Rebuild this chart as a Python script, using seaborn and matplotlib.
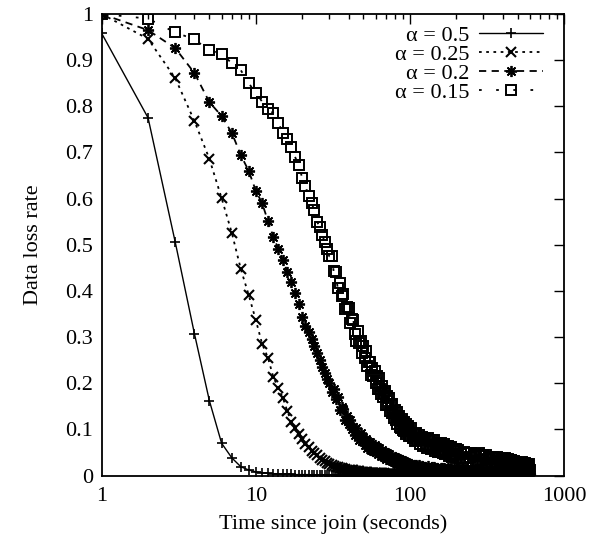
import matplotlib
matplotlib.use("Agg")
import matplotlib.pyplot as plt
import seaborn as sns
import pandas as pd
from matplotlib.ticker import FixedLocator, NullFormatter, FuncFormatter

# ---- data ----
time_s = [1, 2, 3, 4, 5, 6, 7, 8, 9, 10,
          11, 12, 13, 14, 15, 16, 17, 18, 19, 20,
          21, 22, 23, 24, 25, 26, 27, 28, 29, 30,
          31, 32, 33, 34, 35, 36, 37, 38, 39, 40,
          41, 42, 43, 44, 45, 46, 47, 48, 49, 50,
          51, 52, 53, 54, 55, 56, 57, 58, 59, 60,
          61, 62, 63, 64, 65, 66, 67, 68, 69, 70,
          71, 72, 73, 74, 75, 76, 77, 78, 79, 80,
          81, 82, 83, 84, 85, 86, 87, 88, 89, 90,
          91, 92, 93, 94, 95, 96, 97, 98, 99, 100,
          102, 104, 106, 108, 110, 112, 114, 116, 118, 120,
          122, 124, 126, 128, 130, 132, 134, 136, 138, 140,
          142, 144, 146, 148, 150, 152, 154, 156, 158, 160,
          162, 164, 166, 168, 170, 172, 174, 176, 178, 180,
          182, 184, 186, 188, 190, 192, 194, 196, 198, 200,
          205, 210, 215, 220, 225, 230, 235, 240, 245, 250,
          255, 260, 265, 270, 275, 280, 285, 290, 295, 300,
          305, 310, 315, 320, 325, 330, 335, 340, 345, 350,
          355, 360, 365, 370, 375, 380, 385, 390, 395, 400,
          405, 410, 415, 420, 425, 430, 435, 440, 445, 450,
          455, 460, 465, 470, 475, 480, 485, 490, 495, 500,
          505, 510, 515, 520, 525, 530, 535, 540, 545, 550,
          555, 560, 565, 570, 575, 580, 585, 590, 595, 600]

loss_a050 = [0.958, 0.775, 0.506, 0.307, 0.162, 0.070, 0.038, 0.019, 0.012, 0.008,
             0.006, 0.005, 0.004, 0.004, 0.003, 0.003, 0.003, 0.002, 0.002, 0.002,
             0.002, 0.002, 0.001, 0.001, 0.001, 0.001, 0.001, 0.001, 0.001, 0.001,
             0.001, 0.001, 0.001, 0.001, 0.000, 0.001, 0.001, 0.001, 0.000, 0.001,
             0.001, 0.000, 0.001, 0.000, 0.000, 0.001, 0.000, 0.000, 0.000, 0.000,
             0.000, 0.000, 0.000, 0.000, 0.000, 0.000, 0.000, 0.000, 0.000, 0.000,
             0.000, 0.000, 0.000, 0.000, 0.000, 0.000, 0.000, 0.000, 0.000, 0.000,
             0.000, 0.000, 0.000, 0.000, 0.000, 0.000, 0.000, 0.000, 0.000, 0.000,
             0.000, 0.000, 0.000, 0.000, 0.000, 0.000, 0.000, 0.000, 0.000, 0.000,
             0.000, 0.000, 0.000, 0.000, 0.000, 0.000, 0.000, 0.000, 0.000, 0.000,
             0.000, 0.000, 0.000, 0.000, 0.000, 0.000, 0.000, 0.000, 0.000, 0.000,
             0.000, 0.000, 0.000, 0.000, 0.000, 0.000, 0.000, 0.000, 0.000, 0.000,
             0.000, 0.000, 0.000, 0.000, 0.000, 0.000, 0.000, 0.000, 0.000, 0.000,
             0.000, 0.000, 0.000, 0.000, 0.000, 0.000, 0.000, 0.000, 0.000, 0.000,
             0.000, 0.000, 0.000, 0.000, 0.000, 0.000, 0.000, 0.000, 0.000, 0.000,
             0.000, 0.000, 0.000, 0.000, 0.000, 0.000, 0.000, 0.000, 0.000, 0.000,
             0.000, 0.000, 0.000, 0.000, 0.000, 0.000, 0.000, 0.000, 0.000, 0.000,
             0.000, 0.000, 0.000, 0.000, 0.000, 0.000, 0.000, 0.000, 0.000, 0.000,
             0.000, 0.000, 0.000, 0.000, 0.000, 0.000, 0.000, 0.000, 0.000, 0.000,
             0.000, 0.000, 0.000, 0.000, 0.000, 0.000, 0.000, 0.000, 0.000, 0.000,
             0.000, 0.000, 0.000, 0.000, 0.000, 0.000, 0.000, 0.000, 0.000, 0.000,
             0.000, 0.000, 0.000, 0.000, 0.000, 0.000, 0.000, 0.000, 0.000, 0.000,
             0.000, 0.000, 0.000, 0.000, 0.000, 0.000, 0.000, 0.000, 0.000, 0.000]

loss_a025 = [1.000, 0.946, 0.861, 0.768, 0.686, 0.601, 0.525, 0.447, 0.391, 0.337,
             0.285, 0.255, 0.213, 0.190, 0.168, 0.140, 0.117, 0.104, 0.090, 0.080,
             0.068, 0.062, 0.054, 0.049, 0.044, 0.039, 0.034, 0.031, 0.027, 0.024,
             0.022, 0.021, 0.019, 0.018, 0.017, 0.016, 0.015, 0.014, 0.013, 0.012,
             0.012, 0.011, 0.011, 0.010, 0.010, 0.009, 0.009, 0.008, 0.008, 0.008,
             0.007, 0.007, 0.007, 0.006, 0.006, 0.006, 0.006, 0.006, 0.006, 0.005,
             0.005, 0.005, 0.005, 0.005, 0.005, 0.005, 0.004, 0.005, 0.004, 0.004,
             0.004, 0.004, 0.004, 0.004, 0.004, 0.004, 0.003, 0.004, 0.003, 0.003,
             0.003, 0.003, 0.003, 0.003, 0.003, 0.003, 0.003, 0.003, 0.003, 0.003,
             0.003, 0.003, 0.003, 0.002, 0.003, 0.002, 0.003, 0.002, 0.002, 0.002,
             0.003, 0.002, 0.002, 0.003, 0.002, 0.002, 0.002, 0.001, 0.002, 0.002,
             0.002, 0.002, 0.001, 0.002, 0.002, 0.002, 0.001, 0.002, 0.002, 0.001,
             0.002, 0.001, 0.002, 0.002, 0.001, 0.002, 0.001, 0.001, 0.002, 0.001,
             0.001, 0.002, 0.001, 0.001, 0.002, 0.001, 0.001, 0.001, 0.002, 0.001,
             0.001, 0.001, 0.001, 0.002, 0.001, 0.001, 0.001, 0.001, 0.001, 0.001,
             0.001, 0.001, 0.001, 0.001, 0.002, 0.001, 0.001, 0.001, 0.001, 0.001,
             0.001, 0.001, 0.001, 0.001, 0.001, 0.001, 0.000, 0.001, 0.001, 0.001,
             0.001, 0.001, 0.000, 0.001, 0.001, 0.001, 0.001, 0.000, 0.001, 0.001,
             0.001, 0.000, 0.001, 0.001, 0.000, 0.001, 0.001, 0.001, 0.000, 0.001,
             0.001, 0.001, 0.000, 0.001, 0.000, 0.001, 0.001, 0.000, 0.001, 0.000,
             0.001, 0.000, 0.001, 0.000, 0.001, 0.000, 0.000, 0.001, 0.000, 0.000,
             0.000, 0.001, 0.000, 0.000, 0.001, 0.000, 0.000, 0.000, 0.001, 0.000,
             0.000, 0.000, 0.000, 0.001, 0.000, 0.000, 0.000, 0.000, 0.000, 0.000]

loss_a020 = [1.000, 0.965, 0.926, 0.872, 0.809, 0.779, 0.742, 0.694, 0.660, 0.617,
             0.590, 0.551, 0.517, 0.491, 0.467, 0.441, 0.419, 0.395, 0.372, 0.343,
             0.325, 0.311, 0.295, 0.280, 0.265, 0.250, 0.235, 0.222, 0.210, 0.200,
             0.181, 0.187, 0.165, 0.170, 0.143, 0.148, 0.145, 0.120, 0.130, 0.112,
             0.121, 0.100, 0.106, 0.088, 0.104, 0.087, 0.078, 0.092, 0.075, 0.084,
             0.067, 0.080, 0.060, 0.072, 0.072, 0.055, 0.064, 0.053, 0.067, 0.052,
             0.061, 0.046, 0.059, 0.048, 0.043, 0.055, 0.042, 0.049, 0.050, 0.036,
             0.048, 0.037, 0.047, 0.033, 0.040, 0.031, 0.043, 0.034, 0.029, 0.040,
             0.028, 0.039, 0.026, 0.034, 0.036, 0.024, 0.031, 0.025, 0.034, 0.023,
             0.032, 0.023, 0.030, 0.021, 0.030, 0.023, 0.028, 0.019, 0.025, 0.019,
             0.026, 0.018, 0.023, 0.016, 0.023, 0.017, 0.023, 0.015, 0.019, 0.021,
             0.013, 0.019, 0.019, 0.013, 0.012, 0.020, 0.014, 0.017, 0.012, 0.019,
             0.012, 0.018, 0.010, 0.015, 0.016, 0.009, 0.015, 0.011, 0.017, 0.010,
             0.016, 0.009, 0.016, 0.011, 0.009, 0.015, 0.010, 0.014, 0.016, 0.008,
             0.015, 0.010, 0.015, 0.007, 0.012, 0.008, 0.014, 0.010, 0.008, 0.014,
             0.014, 0.009, 0.011, 0.007, 0.012, 0.009, 0.013, 0.008, 0.010, 0.011,
             0.006, 0.011, 0.011, 0.007, 0.006, 0.012, 0.007, 0.010, 0.006, 0.011,
             0.006, 0.011, 0.005, 0.009, 0.010, 0.004, 0.008, 0.006, 0.010, 0.005,
             0.009, 0.004, 0.010, 0.006, 0.005, 0.008, 0.004, 0.007, 0.009, 0.003,
             0.008, 0.005, 0.009, 0.003, 0.007, 0.004, 0.008, 0.005, 0.004, 0.008,
             0.008, 0.004, 0.007, 0.003, 0.008, 0.004, 0.007, 0.003, 0.005, 0.007,
             0.003, 0.006, 0.007, 0.003, 0.003, 0.007, 0.004, 0.006, 0.003, 0.007,
             0.004, 0.007, 0.003, 0.005, 0.007, 0.003, 0.006, 0.004, 0.007, 0.003]

loss_a015 = [1.000, 0.990, 0.960, 0.945, 0.921, 0.914, 0.893, 0.878, 0.850, 0.829,
             0.810, 0.795, 0.785, 0.764, 0.742, 0.729, 0.712, 0.690, 0.672, 0.645,
             0.628, 0.605, 0.590, 0.575, 0.550, 0.538, 0.522, 0.505, 0.490, 0.475,
             0.476, 0.443, 0.441, 0.406, 0.418, 0.389, 0.393, 0.361, 0.365, 0.362,
             0.330, 0.340, 0.336, 0.307, 0.292, 0.313, 0.287, 0.291, 0.265, 0.281,
             0.254, 0.270, 0.237, 0.246, 0.247, 0.218, 0.233, 0.215, 0.227, 0.200,
             0.215, 0.188, 0.211, 0.188, 0.177, 0.195, 0.171, 0.179, 0.183, 0.153,
             0.172, 0.152, 0.168, 0.139, 0.152, 0.135, 0.154, 0.135, 0.124, 0.143,
             0.120, 0.138, 0.112, 0.127, 0.128, 0.105, 0.118, 0.104, 0.122, 0.098,
             0.117, 0.096, 0.110, 0.090, 0.112, 0.094, 0.108, 0.085, 0.099, 0.086,
             0.102, 0.082, 0.091, 0.074, 0.092, 0.078, 0.087, 0.069, 0.078, 0.084,
             0.065, 0.079, 0.082, 0.065, 0.060, 0.081, 0.066, 0.074, 0.058, 0.076,
             0.059, 0.076, 0.054, 0.065, 0.070, 0.050, 0.066, 0.055, 0.070, 0.051,
             0.065, 0.048, 0.068, 0.054, 0.047, 0.064, 0.049, 0.058, 0.064, 0.043,
             0.060, 0.047, 0.061, 0.041, 0.053, 0.042, 0.058, 0.047, 0.039, 0.057,
             0.056, 0.037, 0.047, 0.033, 0.052, 0.038, 0.049, 0.031, 0.041, 0.048,
             0.029, 0.044, 0.047, 0.031, 0.026, 0.048, 0.033, 0.042, 0.026, 0.045,
             0.028, 0.045, 0.023, 0.035, 0.041, 0.021, 0.037, 0.027, 0.041, 0.023,
             0.038, 0.020, 0.041, 0.027, 0.020, 0.038, 0.023, 0.032, 0.038, 0.018,
             0.035, 0.022, 0.037, 0.016, 0.029, 0.018, 0.035, 0.023, 0.016, 0.034,
             0.033, 0.018, 0.026, 0.015, 0.031, 0.020, 0.029, 0.015, 0.024, 0.028,
             0.015, 0.026, 0.028, 0.016, 0.013, 0.029, 0.019, 0.025, 0.014, 0.027,
             0.016, 0.028, 0.013, 0.020, 0.025, 0.011, 0.023, 0.015, 0.025, 0.012]

series_labels = ["\u03b1 = 0.5", "\u03b1 = 0.25", "\u03b1 = 0.2", "\u03b1 = 0.15"]
y_ticks = [0, 0.1, 0.2, 0.3, 0.4, 0.5, 0.6, 0.7, 0.8, 0.9, 1]
y_tick_labels = ["0", "0.1", "0.2", "0.3", "0.4", "0.5", "0.6", "0.7", "0.8", "0.9", "1"]
x_major = [1, 10, 100, 1000]
x_minor = [2, 3, 4, 5, 6, 7, 8, 9, 20, 30, 40, 50, 60, 70, 80, 90,
           200, 300, 400, 500, 600, 700, 800, 900]

# ---- styling ----
sns.set_theme(style="white")
plt.rcParams["font.family"] = ["Liberation Serif", "DejaVu Serif"]
FS = 16

fig = plt.figure(figsize=(5.96, 5.40), dpi=100)
ax = fig.add_axes([0.1706, 0.1194, 0.7757, 0.8547])

styles = [
    dict(linestyle="-", linewidth=1.0, marker="+", markersize=7.5, markeredgewidth=1.2),
    dict(linestyle=(0, (1.5, 2.5)), linewidth=1.3, marker="x", markersize=7, markeredgewidth=1.5),
    dict(linestyle=(0, (4, 3)), linewidth=1.3, marker=(8, 2, 0), markersize=8, markeredgewidth=1.3),
    dict(linestyle=(0, (1.5, 8)), linewidth=1.3, marker="s", markersize=6.8, markeredgewidth=1.4,
         markerfacecolor="none"),
]
all_series = [loss_a050, loss_a025, loss_a020, loss_a015]

for vals, lab, st in zip(all_series, series_labels, styles):
    df = pd.DataFrame({"time": time_s, "loss": vals})
    sns.lineplot(data=df, x="time", y="loss", ax=ax, color="black",
                 markeredgecolor="black", label=lab, estimator=None,
                 sort=False, errorbar=None, **st)

ax.set_xscale("log")
ax.set_xlim(1, 1000)
ax.set_ylim(0, 1)
ax.xaxis.set_major_locator(FixedLocator(x_major))
ax.xaxis.set_minor_locator(FixedLocator(x_minor))
ax.xaxis.set_major_formatter(FuncFormatter(lambda v, p: f"{int(round(v))}"))
ax.xaxis.set_minor_formatter(NullFormatter())
ax.set_yticks(y_ticks)
ax.set_yticklabels(y_tick_labels)

ax.tick_params(which="both", direction="in", top=True, right=True, color="black",
               labelcolor="black")
ax.tick_params(which="major", length=7, width=1.0, labelsize=FS)
ax.tick_params(axis="x", which="major", pad=8)
ax.tick_params(axis="y", which="major", pad=6)
ax.tick_params(which="minor", length=3.5, width=1.0)
for s in ax.spines.values():
    s.set_color("black")
    s.set_linewidth(1.3)

ax.set_xlabel("Time since join (seconds)", fontsize=FS, color="black", labelpad=6)
ax.set_ylabel("Data loss rate", fontsize=FS, color="black", labelpad=16)

leg = ax.legend(loc="upper right", bbox_to_anchor=(0.955, 0.975), markerfirst=False,
                frameon=False, fontsize=FS, handlelength=2.9, handletextpad=0.4,
                labelspacing=-0.07, borderaxespad=0, borderpad=0, numpoints=1)
for t in leg.get_texts():
    t.set_color("black")

fig.savefig("out.png", dpi=100)
